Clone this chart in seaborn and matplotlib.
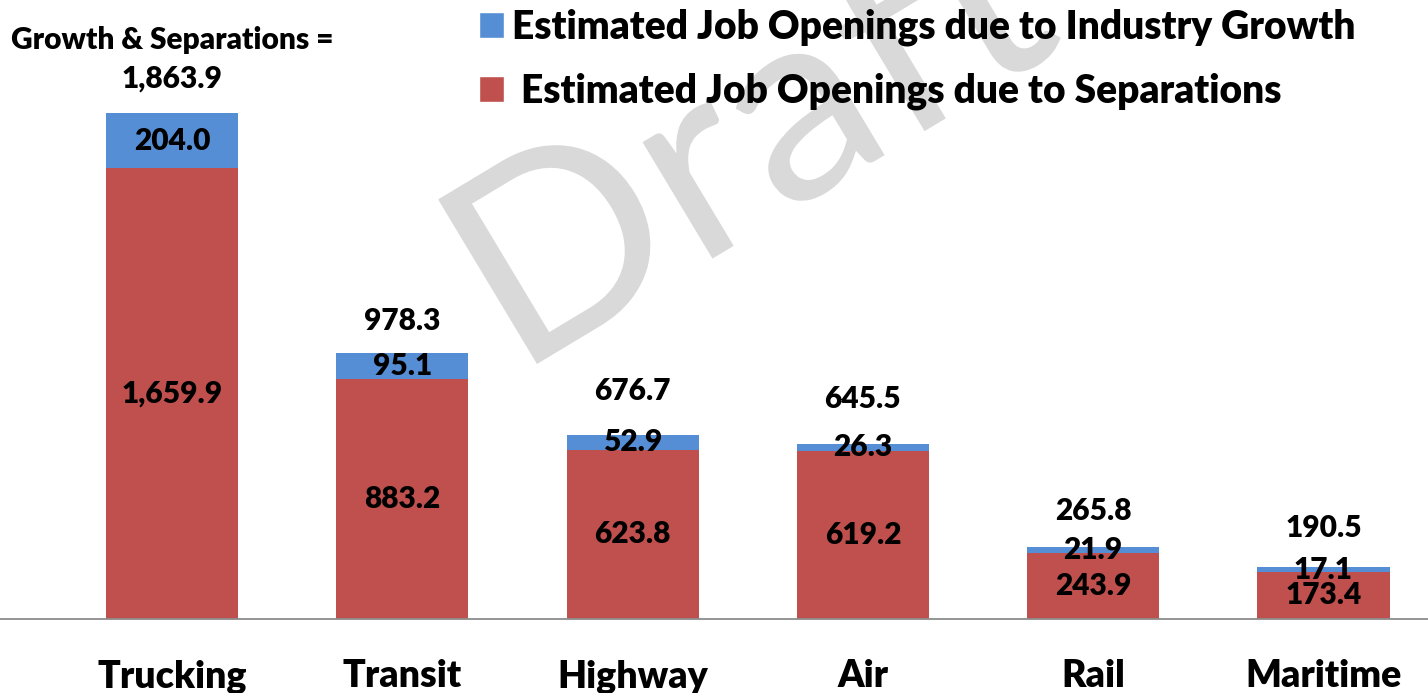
import numpy as np
import matplotlib
matplotlib.use("Agg")
import matplotlib.pyplot as plt
from matplotlib.patches import Patch, PathPatch
from matplotlib.textpath import TextPath
from matplotlib.font_manager import FontProperties
from matplotlib.transforms import Affine2D, IdentityTransform
import seaborn as sns

# --- Daten ---
categories = ["Trucking", "Transit", "Highway", "Air", "Rail", "Maritime"]
separations = [1659.9, 883.2, 623.8, 619.2, 243.9, 173.4]
growth = [204.0, 95.1, 52.9, 26.3, 21.9, 17.1]
totals = [1863.9, 978.3, 676.7, 645.5, 265.8, 190.5]
total_labels = ["Growth & Separations =\n1,863.9", "978.3", "676.7", "645.5", "265.8", "190.5"]
# Abstand der Summen-Beschriftung über dem Balken (Punkte)
total_offsets = [14.5, 13.5, 22, 22, 15.5, 18.5]

legend_labels = ["Estimated Job Openings due to Industry Growth",
                 " Estimated Job Openings due to Separations"]

BLUE = "#558ED5"
RED = "#C0504D"
FONT = ["Lato", "DejaVu Sans"]
W = "heavy"

sns.set_style("white")
plt.rcParams["font.family"] = FONT
plt.rcParams["font.weight"] = W
plt.rcParams["text.color"] = "black"
plt.rcParams["xtick.color"] = "black"

fig = plt.figure(figsize=(14.28, 6.93), dpi=100)
ax = fig.add_axes([0, 74 / 693, 1, 619 / 693])

# --- gestapelte Balken: Summe (blau) hinten, Separations (rot) davor ---
sns.barplot(x=categories, y=totals, color=BLUE, saturation=1, width=0.574,
            linewidth=0, edgecolor="none", ax=ax, zorder=2)
sns.barplot(x=categories, y=separations, color=RED, saturation=1, width=0.574,
            linewidth=0, edgecolor="none", ax=ax, zorder=2)

ax.set_xlim(-0.747, 5.454)
ax.set_ylim(0, 2280)

# --- Beschriftungen ---
for i, (s, g, t) in enumerate(zip(separations, growth, totals)):
    ax.text(i, s / 2, f"{s:,.1f}", ha="center", va="center",
            fontsize=21.5, fontweight=W, zorder=4)
    ax.text(i, s + g / 2, f"{g:,.1f}", ha="center", va="center",
            fontsize=21.5, fontweight=W, zorder=4)
    ax.annotate(total_labels[i], (i, t), xytext=(0, total_offsets[i]),
                textcoords="offset points", ha="center", va="bottom",
                fontsize=21.5, fontweight=W, linespacing=1.45, zorder=4)

# --- Achsen ---
sns.despine(ax=ax, left=True, top=True, right=True)
ax.spines["bottom"].set_color("#8C8C8C")
ax.spines["bottom"].set_linewidth(1.3)
ax.set_yticks([])
ax.tick_params(axis="x", length=0, pad=29, labelsize=27)
for lab in ax.get_xticklabels():
    lab.set_fontweight(W)
ax.set_xlabel("")
ax.set_ylabel("")

# --- Wasserzeichen "Draft" (gedreht, leicht gestreckt) ---
fp = FontProperties(family="Lato", weight="normal")
word = TextPath((0, 0), "Draft", size=1, prop=fp)
cap_h = TextPath((0, 0), "D", size=1, prop=fp).get_extents().ymax
ext = word.get_extents()
size = 192 / cap_h                       # Versalhöhe ~192 px
stretch = 617 / ((ext.xmax - ext.xmin) * size)
tr = (Affine2D().translate(-ext.xmin, 0).scale(size * stretch, size)
      .rotate_deg(31).translate(537, 693 - 364))
wm = PathPatch(tr.transform_path(word), transform=IdentityTransform(),
               facecolor="#D9D9D9", edgecolor="none", zorder=0.5, clip_on=False)
ax.add_artist(wm)

# --- Legende ---
handles = [Patch(facecolor=BLUE), Patch(facecolor=RED)]
leg = fig.legend(handles, legend_labels, loc="upper left",
                 bbox_to_anchor=(479 / 1428, 1 - 9 / 693), frameon=False,
                 prop={"family": FONT, "weight": W, "size": 28},
                 handlelength=0.64, handleheight=0.64, handletextpad=0.21,
                 labelspacing=0.68, borderpad=0, borderaxespad=0)

fig.savefig("out.png", dpi=100)
